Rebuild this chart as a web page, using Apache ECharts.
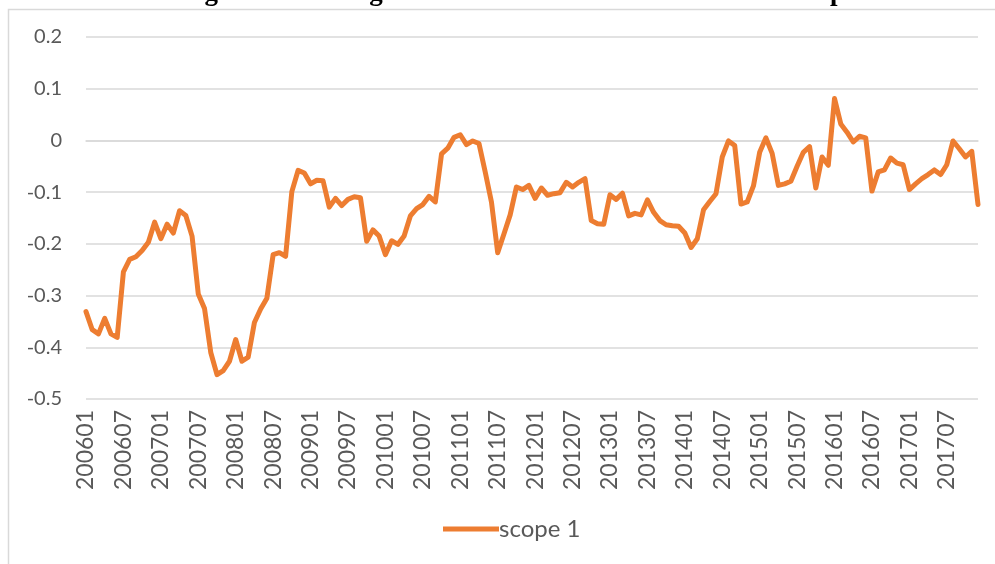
<!DOCTYPE html>
<html>
<head>
<meta charset="utf-8">
<script src="https://cdn.jsdelivr.net/npm/echarts@6/dist/echarts.min.js"></script>
<style>
html,body{margin:0;padding:0;background:#fff;}
#c{width:995px;height:564px;}
</style>
</head>
<body>
<div id="c"></div>
<script>
// Months 200601 .. 201712
const startYear = 2006, endYear = 2017;
const categories = [];
for (let y = startYear; y <= endYear; y++) {
  for (let m = 1; m <= 12; m++) categories.push(String(y) + (m < 10 ? '0' + m : String(m)));
}
const seriesName = 'scope 1';
const scope1 = [
  -0.331,-0.366,-0.374,-0.344,-0.374,-0.381,-0.254,-0.230,-0.225,-0.213,-0.197,-0.158,
  -0.190,-0.162,-0.179,-0.136,-0.145,-0.185,-0.297,-0.325,-0.410,-0.453,-0.445,-0.427,
  -0.385,-0.427,-0.419,-0.352,-0.326,-0.305,-0.221,-0.217,-0.224,-0.099,-0.058,-0.063,
  -0.084,-0.077,-0.078,-0.129,-0.112,-0.126,-0.114,-0.109,-0.111,-0.195,-0.173,-0.185,
  -0.221,-0.194,-0.201,-0.185,-0.146,-0.132,-0.124,-0.108,-0.119,-0.026,-0.015,0.006,
  0.011,-0.008,-0.001,-0.006,-0.061,-0.119,-0.217,-0.181,-0.144,-0.090,-0.095,-0.087,
  -0.112,-0.092,-0.106,-0.103,-0.101,-0.081,-0.090,-0.081,-0.074,-0.155,-0.161,-0.162,
  -0.105,-0.114,-0.102,-0.146,-0.141,-0.144,-0.115,-0.139,-0.155,-0.163,-0.165,-0.166,
  -0.179,-0.207,-0.190,-0.134,-0.118,-0.103,-0.032,-0.001,-0.010,-0.123,-0.119,-0.088,
  -0.023,0.005,-0.025,-0.087,-0.084,-0.079,-0.050,-0.023,-0.012,-0.092,-0.032,-0.048,
  0.081,0.032,0.016,-0.003,0.008,0.005,-0.098,-0.061,-0.057,-0.034,-0.044,-0.047,
  -0.095,-0.084,-0.074,-0.066,-0.057,-0.066,-0.047,-0.001,-0.016,-0.032,-0.021,-0.124
];
const yTicks = ['-0.5','-0.4','-0.3','-0.2','-0.1','0','0.1','0.2'];
const titleText = 'Figure 3. Trading Share of Old Industries and New Companies';

const chart = echarts.init(document.getElementById('c'), null, {renderer:'canvas'});
const font = 'Lato, "Open Sans", sans-serif';
chart.setOption({
  animation: false,
  backgroundColor: '#ffffff',
  graphic: [{
    type: 'rect', silent: true, z: -1,
    shape: {x: 8.5, y: 9.5, width: 1100, height: 700},
    style: {fill: 'none', stroke: '#D9D9D9', lineWidth: 1.5}
  }],
  title: {
    text: titleText,
    left: 537, textAlign: 'center', top: -25,
    textStyle: {fontFamily: '"Liberation Serif", serif', fontWeight: 'bold', fontSize: 27, color: '#000'}
  },
  legend: {
    data: [seriesName],
    bottom: 18, left: 438,
    icon: 'rect', itemWidth: 56, itemHeight: 5,
    textStyle: {fontFamily: font, fontSize: 24, color: '#595959', padding: [0,0,0,-5]}
  },
  grid: {left: 86, right: 17, top: 37, bottom: 165, containLabel: false},
  xAxis: {
    type: 'category', data: categories, boundaryGap: false,
    axisLine: {show: true, lineStyle: {color: '#D9D9D9', width: 1.5}},
    axisTick: {show: false},
    axisLabel: {interval: 5, rotate: 90, margin: 11, fontFamily: font, fontSize: 23, color: '#595959'},
    splitLine: {show: false}
  },
  yAxis: {
    type: 'value', min: -0.5, max: 0.2, interval: 0.1,
    axisLine: {show: false}, axisTick: {show: false},
    axisLabel: {
      margin: 24, fontFamily: font, fontSize: 20, color: '#595959',
      formatter: function (v) { return yTicks[Math.round((v + 0.5) * 10)]; }
    },
    splitLine: {lineStyle: {color: '#D9D9D9', width: 1.5}}
  },
  series: [{
    name: seriesName, type: 'line', data: scope1,
    showSymbol: false, symbol: 'none',
    itemStyle: {color: '#ED7D31'},
    lineStyle: {color: '#ED7D31', width: 5, join: 'round', cap: 'round'}
  }]
});
</script>
</body>
</html>
